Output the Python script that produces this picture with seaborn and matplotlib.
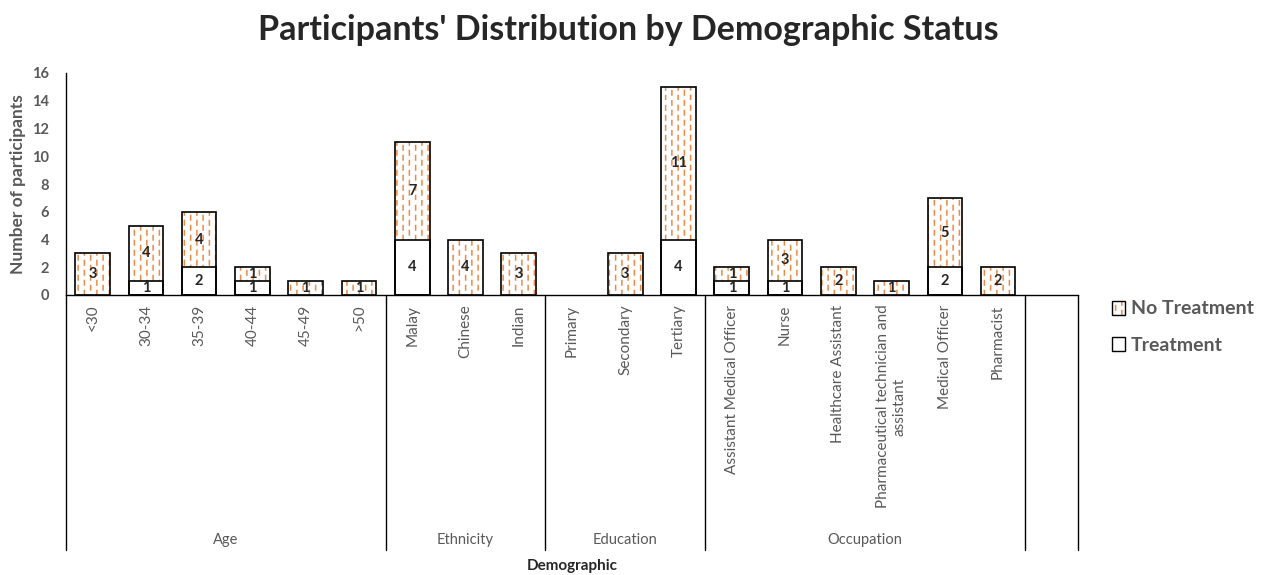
import warnings
import numpy as np
import pandas as pd
import matplotlib
matplotlib.use('Agg')
import matplotlib.pyplot as plt
import matplotlib.hatch as mhatch
import matplotlib.transforms as mtrans
from matplotlib.path import Path
from matplotlib.patches import Patch
import seaborn as sns

warnings.filterwarnings('ignore')

# data
groups = ['Age', 'Ethnicity', 'Education', 'Occupation']
age = ['<30', '30-34', '35-39', '40-44', '45-49', '>50']
ethnicity = ['Malay', 'Chinese', 'Indian']
education = ['Primary', 'Secondary', 'Tertiary']
occupation = ['Assistant Medical Officer', 'Nurse', 'Healthcare Assistant',
              'Pharmaceutical technician and\nassistant', 'Medical Officer', 'Pharmacist']
treatment = [0, 1, 2, 1, 0, 0,
             4, 0, 0,
             0, 0, 4,
             1, 1, 0, 0, 2, 0]
no_treatment = [3, 4, 4, 1, 1, 1,
                7, 4, 3,
                0, 3, 11,
                1, 3, 2, 1, 5, 2]

ORANGE = '#EE8A45'
GREY = '#595959'


class DashHatch(mhatch.HatchPatternBase):
    """vertical staggered dashes, used with the '!' hatch character"""
    def __init__(self, hatch, density):
        n = hatch.count('!')
        self.cols = 16 if n else 0
        self.rows = 10
        self.num_vertices = self.cols * self.rows * 2

    def set_vertices_and_codes(self, vertices, codes):
        col = np.repeat(np.arange(self.cols), self.rows)
        row = np.tile(np.arange(self.rows), self.cols)
        x = (col + 0.5) / self.cols
        y0 = (row + 0.5 * (col % 2)) / self.rows
        vertices[0::2, 0] = x
        vertices[0::2, 1] = y0
        vertices[1::2, 0] = x
        vertices[1::2, 1] = y0 + 0.45 / self.rows
        codes[0::2] = Path.MOVETO
        codes[1::2] = Path.LINETO


mhatch._hatch_types.append(DashHatch)

sns.set_style('white')
plt.rcParams['font.family'] = ['Lato', 'DejaVu Sans']
plt.rcParams['hatch.linewidth'] = 1.1

labels = age + ethnicity + education + occupation + [' ']
sizes = [len(age), len(ethnicity), len(education), len(occupation)]
df = pd.DataFrame({
    'label': labels,
    'treatment': treatment + [np.nan],
    'no_treatment': no_treatment + [np.nan],
})
df['total'] = df['treatment'] + df['no_treatment']
# empty segments are not drawn
df['treatment_bar'] = df['treatment'].replace(0, np.nan)
df['total_bar'] = df['total'].replace(0, np.nan)

fig = plt.figure(figsize=(12.66, 5.75), dpi=100)
ax = fig.add_axes([66 / 1266, 1 - 295 / 575, (1078 - 66) / 1266, 222 / 575])

w = 0.65
sns.barplot(data=df, x='label', y='total_bar', order=labels, color='white', saturation=1,
            edgecolor=ORANGE, linewidth=0, hatch='!', width=w, ax=ax)
sns.barplot(data=df, x='label', y='treatment_bar', order=labels, color='white', saturation=1,
            edgecolor='black', linewidth=1.2, width=w, ax=ax)
sns.barplot(data=df, x='label', y='total_bar', order=labels, fill=False, color='black',
            linewidth=1.2, width=w, ax=ax)

# data labels
for i, (t, nt) in enumerate(zip(treatment, no_treatment)):
    if t:
        ax.text(i, t / 2, str(t), ha='center', va='center', fontsize=10.5, fontweight='bold')
    if nt:
        ax.text(i, t + nt / 2, str(nt), ha='center', va='center', fontsize=10.5, fontweight='bold')

ax.set_ylim(0, 16)
ax.set_xlim(-0.5, len(labels) - 0.5)
ax.set_yticks(range(0, 17, 2))
ax.tick_params(axis='y', length=0, pad=12, labelsize=10.5, labelcolor=GREY)
for t in ax.get_yticklabels():
    t.set_fontweight('bold')
ax.tick_params(axis='x', length=0, pad=7, labelsize=11, labelcolor=GREY, rotation=90)
ax.set_xlabel('')
ax.set_ylabel('')
for s in ['top', 'right']:
    ax.spines[s].set_visible(False)
ax.spines['left'].set_color('black')
ax.spines['bottom'].set_color('black')
ax.spines['left'].set_linewidth(1)
ax.spines['bottom'].set_linewidth(1)

# group separators and group names below the axis
trans = mtrans.blended_transform_factory(ax.transData, ax.transAxes)
bounds = np.concatenate([[0], np.cumsum(sizes), [len(labels)]]) - 0.5
low = -(550 - 295) / 222
for b in bounds:
    ax.plot([b, b], [0, low], transform=trans, color='black', lw=1, clip_on=False)
for g, a, b in zip(groups, bounds[:-2], bounds[1:-1]):
    ax.text((a + b) / 2, -(540 - 295) / 222, g, transform=trans, ha='center', va='center',
            fontsize=10.5, color=GREY)

fig.text(0.496, 1 - 30 / 575, "Participants' Distribution by Demographic Status",
         ha='center', va='center', fontsize=24.5, fontweight='bold')
fig.text(572 / 1266, 1 - 566 / 575, 'Demographic', ha='center', va='center',
         fontsize=11, fontweight='bold')
fig.text(18 / 1266, 1 - 184 / 575, 'Number of participants', ha='center', va='center',
         rotation=90, fontsize=12.5, fontweight='bold', color=GREY)

h_nt = (Patch(facecolor='white', edgecolor=ORANGE, linewidth=0, hatch='!'),
        Patch(facecolor='none', edgecolor='black', linewidth=1))
h_t = Patch(facecolor='white', edgecolor='black', linewidth=1)
fig.legend([h_nt, h_t], ['No Treatment', 'Treatment'], loc='upper left',
           bbox_to_anchor=(1094 / 1266, 1 - 283 / 575), frameon=False,
           handlelength=0.7, handleheight=0.7, handletextpad=0.3, labelspacing=1.0,
           prop={'size': 14, 'weight': 'bold'}, labelcolor=GREY)

fig.savefig('out.png', dpi=100)
